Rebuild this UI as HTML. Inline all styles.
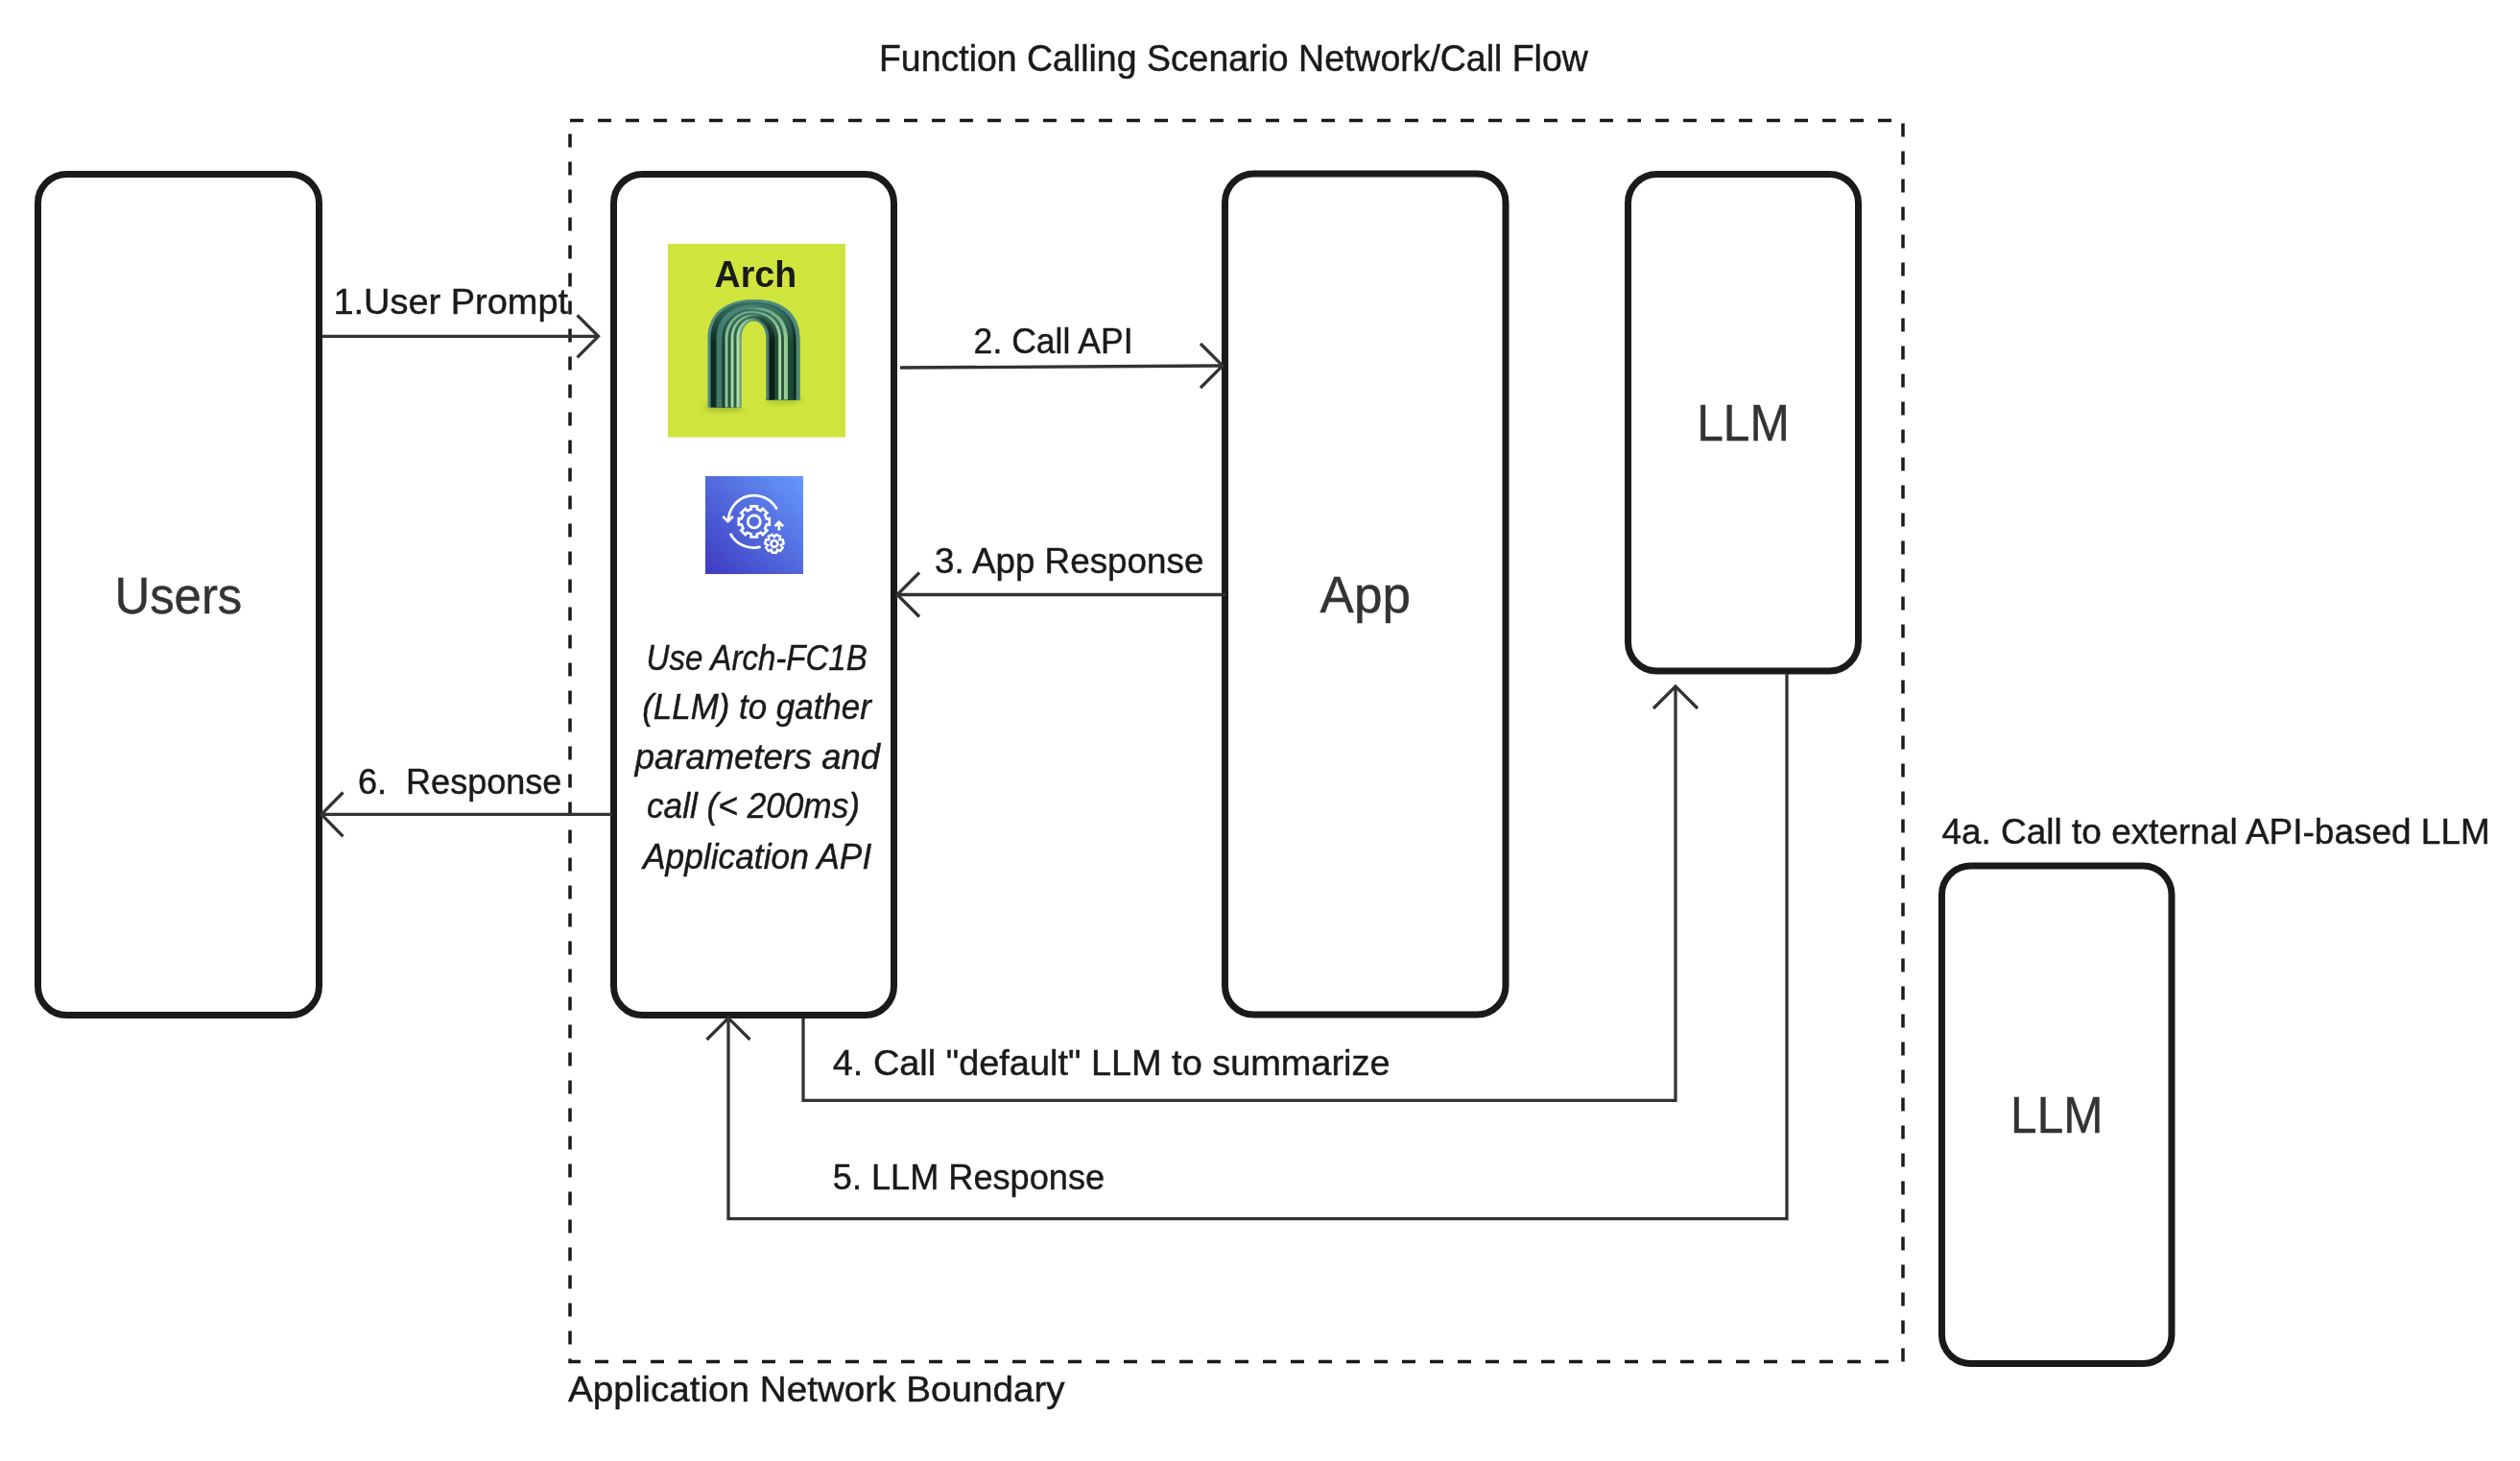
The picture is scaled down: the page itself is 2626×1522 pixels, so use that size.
<!DOCTYPE html>
<html>
<head>
<meta charset="utf-8">
<style>
html,body{margin:0;padding:0;background:#ffffff;}
body{width:2626px;height:1522px;overflow:hidden;position:relative;}
svg{position:absolute;left:0;top:0;display:block;will-change:transform;}
text{font-family:"Liberation Sans",sans-serif;}
</style>
</head>
<body>
<svg width="2626" height="1522" viewBox="0 0 2626 1522">
<g id="shapes">
  <!-- boundary -->
  <rect x="594" y="125.5" width="1389" height="1293" fill="none" stroke="#1a1a1a" stroke-width="3.5" stroke-dasharray="14 15"/>
  <!-- boxes -->
  <g fill="none" stroke="#1a1a1a" stroke-width="7">
    <rect x="39.5" y="181.5" width="293" height="876" rx="30" ry="30"/>
    <rect x="639.5" y="181.5" width="292" height="876" rx="30" ry="30"/>
    <rect x="1276.5" y="181" width="292.5" height="876" rx="30" ry="30"/>
    <rect x="1696.5" y="181.5" width="240" height="517.5" rx="30" ry="30"/>
    <rect x="2023.5" y="902" width="239.5" height="518.5" rx="30" ry="30"/>
  </g>
  <!-- connectors -->
  <g fill="none" stroke="#333333" stroke-width="3.3" stroke-linejoin="miter">
    <path d="M336 350.3 H623"/>
    <path d="M601.5 328.3 L623.5 350.3 L601.5 372.3"/>
    <path d="M938 383 L1274 381"/>
    <path d="M1251 358 L1274 381 L1251 404"/>
    <path d="M1277 619.5 H935"/>
    <path d="M958 596.5 L935 619.5 L958 642.5"/>
    <path d="M638 848.4 H335"/>
    <path d="M357.5 825.5 L335 848.4 L357.5 871.3"/>
    <path d="M837 1061 V1146.3 H1746 V715"/>
    <path d="M1723 738 L1746 715 L1769 738"/>
    <path d="M1862 702 V1269.6 H759 V1061"/>
    <path d="M736.5 1083 L759 1060.5 L781.5 1083"/>
  </g>
</g>
<g id="texts" fill="#1a1a1a" stroke="#1a1a1a" stroke-width="0.45">
  <text x="916.0" y="74.4" font-size="38" textLength="738.8" lengthAdjust="spacingAndGlyphs">Function Calling Scenario Network/Call Flow</text>
  <text x="347.4" y="327" font-size="37.5" textLength="244.7" lengthAdjust="spacingAndGlyphs">1.User Prompt</text>
  <text x="1014.6" y="367.9" font-size="37.5" textLength="166.1" lengthAdjust="spacingAndGlyphs">2. Call API</text>
  <text x="974.0" y="597" font-size="37.5" textLength="280.4" lengthAdjust="spacingAndGlyphs">3. App Response</text>
  <text x="373.0" y="827.2" font-size="37.5" textLength="212.4" lengthAdjust="spacingAndGlyphs" xml:space="preserve">6.  Response</text>
  <text x="867.8" y="1120" font-size="37.5" textLength="580.7" lengthAdjust="spacingAndGlyphs">4. Call "default" LLM to summarize</text>
  <text x="867.8" y="1239.3" font-size="37.5" textLength="283.3" lengthAdjust="spacingAndGlyphs">5. LLM Response</text>
  <text x="2023.4" y="879.2" font-size="37.5" textLength="571.4" lengthAdjust="spacingAndGlyphs">4a. Call to external API-based LLM</text>
  <text x="592.0" y="1460.4" font-size="37.5" textLength="517.6" lengthAdjust="spacingAndGlyphs">Application Network Boundary</text>
  <g fill="#333333" stroke="#333333">
    <text x="119.4" y="638.9" font-size="54" textLength="132.9" lengthAdjust="spacingAndGlyphs">Users</text>
    <text x="1375.6" y="637.8" font-size="54" textLength="94.3" lengthAdjust="spacingAndGlyphs">App</text>
    <text x="1768.2" y="458.9" font-size="54" textLength="96.7" lengthAdjust="spacingAndGlyphs">LLM</text>
    <text x="2095.1" y="1179.8" font-size="54" textLength="96.3" lengthAdjust="spacingAndGlyphs">LLM</text>
  </g>
  <g font-style="italic">
    <text x="673.6" y="697.7" font-size="37" textLength="230.2" lengthAdjust="spacingAndGlyphs">Use Arch-FC1B</text>
    <text x="669.2" y="748.9" font-size="37" textLength="238.6" lengthAdjust="spacingAndGlyphs">(LLM) to gather</text>
    <text x="661.8" y="800.6" font-size="37" textLength="255.2" lengthAdjust="spacingAndGlyphs">parameters and</text>
    <text x="674.0" y="852.4" font-size="37" textLength="222.0" lengthAdjust="spacingAndGlyphs">call (&lt; 200ms)</text>
    <text x="670.0" y="904.7" font-size="37" textLength="238.2" lengthAdjust="spacingAndGlyphs">Application API</text>
  </g>
</g>
<g id="logos">
  <defs>
    <linearGradient id="bluegrad" x1="0" y1="1" x2="1" y2="0">
      <stop offset="0" stop-color="#3d3ac0"/>
      <stop offset="1" stop-color="#6699fa"/>
    </linearGradient>
    <filter id="blur3" x="-50%" y="-50%" width="200%" height="200%"><feGaussianBlur stdDeviation="3"/></filter>
  </defs>
  <rect x="696" y="254" width="185" height="201.5" fill="#cfe53e"/>
  <text x="744.5" y="299" font-size="38" font-weight="bold" fill="#1a1a1a" textLength="85.6" lengthAdjust="spacingAndGlyphs">Arch</text>
  <g id="archshape">
    <ellipse cx="755" cy="424" rx="22" ry="4" fill="#7d8f1c" opacity="0.55" filter="url(#blur3)"/>
    <ellipse cx="817" cy="416" rx="20" ry="4" fill="#7d8f1c" opacity="0.45" filter="url(#blur3)"/>
    <linearGradient id="mgrad" gradientUnits="userSpaceOnUse" x1="777" y1="0" x2="794" y2="0"><stop offset="0" stop-color="#000"/><stop offset="1" stop-color="#fff"/></linearGradient>
<mask id="maskR" maskUnits="userSpaceOnUse" x="700" y="300" width="170" height="140"><rect x="700" y="300" width="170" height="140" fill="url(#mgrad)"/></mask>
<linearGradient id="topgrad" gradientUnits="userSpaceOnUse" x1="0" y1="311" x2="0" y2="356"><stop offset="0" stop-color="#4f8f80" stop-opacity="0.75"/><stop offset="0.55" stop-color="#4f8f80" stop-opacity="0.35"/><stop offset="1" stop-color="#4f8f80" stop-opacity="0"/></linearGradient>
<g><path d="M737.50 424.50V353.00C737.50 327.08 755.15 312.00 785.50 312.00C815.85 312.00 833.50 327.08 833.50 353.00V416.50H785.50V424.50Z" fill="#508c80"/><path d="M740.50 424.50V352.91C740.50 328.53 757.36 313.93 785.50 313.93C813.64 313.93 830.50 328.53 830.50 352.91V416.50H785.50V424.50Z" fill="#0e2a20"/><path d="M746.50 424.50V352.74C746.50 331.36 761.64 317.79 785.50 317.79C809.36 317.79 824.50 331.36 824.50 352.74V416.50H785.50V424.50Z" fill="#3e7868"/><path d="M752.50 424.50V352.57C752.50 334.08 765.77 321.64 785.50 321.64C805.23 321.64 818.50 334.08 818.50 352.57V416.50H785.50V424.50Z" fill="#1b3f2f"/><path d="M755.50 424.50V352.49C755.50 335.39 767.77 323.57 785.50 323.57C803.23 323.57 815.50 335.39 815.50 352.49V416.50H785.50V424.50Z" fill="#8ec69a"/><path d="M758.50 424.50V352.40C758.50 336.68 769.72 325.50 785.50 325.50C801.28 325.50 812.50 336.68 812.50 352.40V416.50H785.50V424.50Z" fill="#24553a"/><path d="M761.50 424.50V352.31C761.50 337.94 771.64 327.43 785.50 327.43C799.36 327.43 809.50 337.94 809.50 352.31V416.50H785.50V424.50Z" fill="#a5d5a2"/><path d="M764.50 424.50V352.23C764.50 339.18 773.52 329.36 785.50 329.36C797.48 329.36 806.50 339.18 806.50 352.23V416.50H785.50V424.50Z" fill="#2a5d3f"/><path d="M767.50 424.50V352.14C767.50 340.39 775.35 331.29 785.50 331.29C795.65 331.29 803.50 340.39 803.50 352.14V416.50H785.50V424.50Z" fill="#b2dea9"/><path d="M770.50 424.50V352.06C770.50 341.56 777.15 333.21 785.50 333.21C793.85 333.21 800.50 341.56 800.50 352.06V416.50H785.50V424.50Z" fill="#6aa07a"/></g>
<g mask="url(#maskR)"><path d="M737.50 424.50V353.00C737.50 327.08 755.15 312.00 785.50 312.00C815.85 312.00 833.50 327.08 833.50 353.00V416.50H785.50V424.50Z" fill="#4b897b"/><path d="M741.39 424.50V352.89C741.39 328.96 758.00 314.50 785.50 314.50C813.00 314.50 829.61 328.96 829.61 352.89V416.50H785.50V424.50Z" fill="#0d2a20"/><path d="M744.31 424.50V352.81C744.31 330.34 760.09 316.38 785.50 316.38C810.91 316.38 826.69 330.34 826.69 352.81V416.50H785.50V424.50Z" fill="#1f4a35"/><path d="M750.14 424.50V352.64C750.14 333.02 764.16 320.12 785.50 320.12C806.84 320.12 820.86 333.02 820.86 352.64V416.50H785.50V424.50Z" fill="#98cc98"/><path d="M754.03 424.50V352.53C754.03 334.75 766.79 322.62 785.50 322.62C804.21 322.62 816.97 334.75 816.97 352.53V416.50H785.50V424.50Z" fill="#2a5a40"/><path d="M756.94 424.50V352.44C756.94 336.02 768.71 324.50 785.50 324.50C802.29 324.50 814.06 336.02 814.06 352.44V416.50H785.50V424.50Z" fill="#a8d8a0"/><path d="M759.86 424.50V352.36C759.86 337.26 770.60 326.38 785.50 326.38C800.40 326.38 811.14 337.26 811.14 352.36V416.50H785.50V424.50Z" fill="#204a35"/><path d="M763.75 424.50V352.25C763.75 338.87 773.05 328.88 785.50 328.88C797.95 328.88 807.25 338.87 807.25 352.25V416.50H785.50V424.50Z" fill="#0a1f18"/><path d="M769.58 424.50V352.08C769.58 341.21 776.60 332.62 785.50 332.62C794.40 332.62 801.42 341.21 801.42 352.08V416.50H785.50V424.50Z" fill="#4a7a70"/></g>
<path d="M737.50 424.50V353.00C737.50 327.08 755.15 312.00 785.50 312.00C815.85 312.00 833.50 327.08 833.50 353.00V416.50H785.50V424.50Z" fill="url(#topgrad)"/>
<path d="M772.70 426.00V352.00C772.70 342.33 778.43 334.50 785.50 334.50C792.57 334.50 798.30 342.33 798.30 352.00V418.00H787.00V426.00Z" fill="#cfe53e"/>
  </g>
  <rect x="735" y="496" width="102" height="102" fill="url(#bluegrad)"/>
  <g fill="none" stroke="#ffffff" stroke-width="2.7" stroke-linecap="butt" stroke-linejoin="miter">
    <path d="M809.6 530.6 A26.8 26.8 0 0 0 759 543.2"/>
    <path d="M753.4 538 L758.6 543.2 L763.9 537.9"/>
    <path d="M761 555.7 A27 27 0 0 0 792.6 569.6"/>
    <path d="M782.80 530.34L782.62 527.41L788.98 527.41L788.80 530.34L792.91 532.04L794.86 529.85L799.35 534.34L797.16 536.29L798.86 540.40L801.79 540.22L801.79 546.58L798.86 546.40L797.16 550.51L799.35 552.46L794.86 556.95L792.91 554.76L788.80 556.46L788.98 559.39L782.62 559.39L782.80 556.46L778.69 554.76L776.74 556.95L772.25 552.46L774.44 550.51L772.74 546.40L769.81 546.58L769.81 540.22L772.74 540.40L774.44 536.29L772.25 534.34L776.74 529.85L778.69 532.04Z"/>
    <circle cx="785.8" cy="543.4" r="6.5"/>
    <path d="M809.08 575.85L804.72 575.85L803.86 572.71L800.87 574.00L798.15 570.59L800.08 567.96L797.20 566.42L798.17 562.17L801.43 562.04L800.83 558.83L804.77 556.94L806.90 559.40L809.03 556.94L812.97 558.83L812.37 562.04L815.63 562.17L816.60 566.42L813.72 567.96L815.65 570.59L812.93 574.00L809.94 572.71Z" stroke-width="2.5"/>
    <circle cx="806.9" cy="566.4" r="3.4"/>
    <path d="M811.8 552.6 V544.5"/>
    <path d="M807.5 548.2 L811.8 543.9 L816.1 548.2"/>
  </g>
</g>
</svg>
</body>
</html>
